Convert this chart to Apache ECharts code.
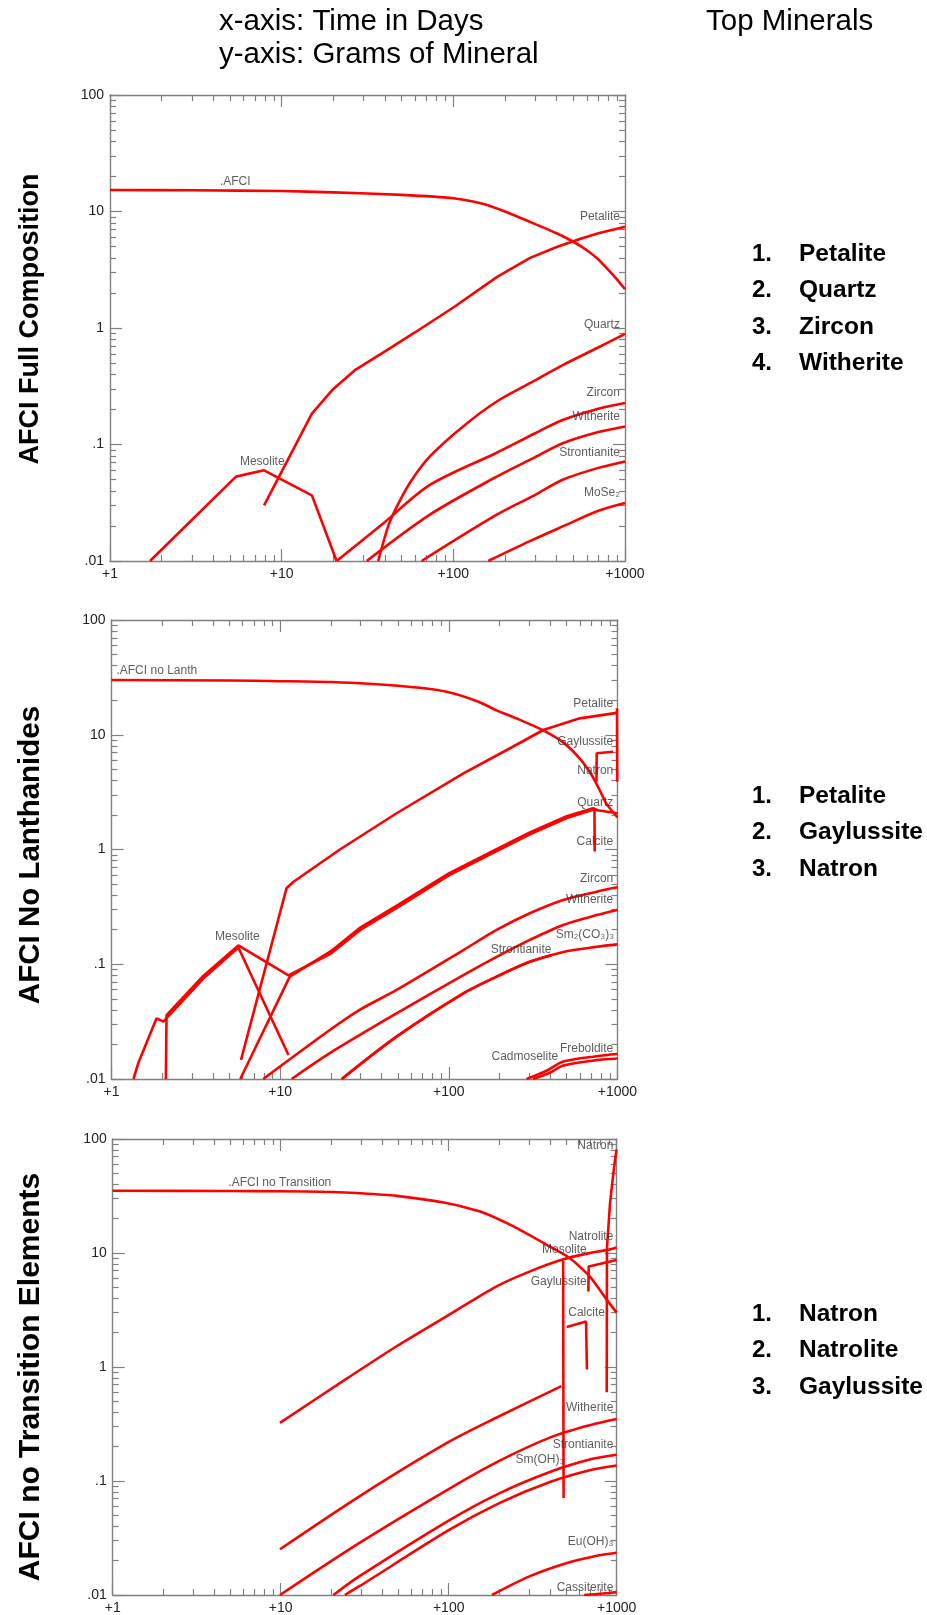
<!DOCTYPE html>
<html>
<head>
<meta charset="utf-8">
<script src="https://cdn.jsdelivr.net/npm/echarts@6/dist/echarts.min.js"></script>
<style>
  html, body { margin: 0; padding: 0; background: #ffffff; }
  #chart { width: 927px; height: 1615px; }
</style>
</head>
<body>
<div id="chart"></div>
<script>
// ---------- Data: [days, grams] pairs, one array per mineral ----------

// Panel 1 - AFCI full composition
const p1Afci = [[1,15.3],[3,15.2],[10,15.0],[20,14.6],[50,13.9],[100,13.0],[150,11.6],[200,10.0],[300,7.8],[400,6.5],[500,5.5],[600,4.65],[700,3.87],[800,3.15],[900,2.6],[1000,2.15]];
const p1Petalite = [[7.9,0.030],[15,0.184],[20,0.30],[27,0.44],[40,0.63],[60,0.92],[100,1.5],[180,2.75],[280,4.0],[400,4.95],[545,5.8],[700,6.5],[1000,7.4]];
const p1Quartz = [[36.5,0.01],[41.8,0.020],[46.7,0.029],[55.9,0.047],[73,0.079],[114,0.143],[179,0.234],[279,0.336],[437,0.483],[683,0.67],[1000,0.89]];
const p1Zircon = [[20.9,0.01],[39,0.021],[73,0.045],[179,0.085],[300,0.125],[437,0.163],[700,0.203],[1000,0.227]];
const p1Witherite = [[31.3,0.01],[73,0.025],[179,0.053],[300,0.078],[437,0.103],[700,0.128],[1000,0.143]];
const p1Strontianite = [[65.3,0.01],[179,0.025],[300,0.037],[437,0.05],[700,0.063],[1000,0.0716]];
const p1MoSe2 = [[159.7,0.01],[279,0.0148],[437,0.0199],[700,0.027],[1000,0.0315]];
const p1Mesolite = [[1.71,0.01],[5.42,0.053],[7.9,0.060],[15,0.0366],[20.9,0.01]];

// Panel 2 - AFCI without lanthanides
const p2Afci = [[1,30],[5,29.7],[10,29.3],[20,28.8],[50,26.7],[97,23.7],[150,19.4],[192,16.3],[260,13.6],[363,10.9],[480,8.5],[598,6.2],[700,4.5],[780,3.35],[861,2.5],[1000,1.9]];
const p2Petalite = [[5.86,0.0147],[10.9,0.459],[12,0.524],[22.6,1.0],[49,2.07],[122,4.6],[241,7.9],[363,11],[598,13.9],[990,15.5]];
const p2Natron = [[993,17],[996,3.9]];
const p2Gaylussite = [[750,3.9],[753,6.9],[944,7.1]];
const p2Quartz = [[5.8,0.01],[11.4,0.078],[20,0.13],[30,0.21],[50,0.33],[100,0.62],[183,0.97],[300,1.4],[500,1.95],[718,2.29],[760,2.2],[1000,2.07]];
const p2Calcite = [[2.1,0.01],[2.12,0.036],[3.5,0.079],[5.65,0.146],[11.2,0.08],[20,0.124],[30,0.2],[50,0.315],[100,0.595],[183,0.935],[300,1.35],[500,1.88],[730,2.24],[733,0.96]];
const p2Mesolite = [[1.35,0.01],[1.44,0.0137],[1.85,0.0338],[2.03,0.0316],[3.5,0.075],[5.65,0.14],[11.2,0.0162]];
const p2Zircon = [[7.94,0.01],[19.7,0.0267],[29.6,0.04],[49,0.0597],[122,0.133],[192,0.199],[302,0.278],[477,0.363],[752,0.429],[1000,0.468]];
const p2Witherite = [[11.7,0.01],[19.7,0.0168],[49,0.0373],[122,0.0805],[192,0.116],[302,0.163],[477,0.22],[752,0.268],[1000,0.297]];
const p2Sm2CO33 = [[23.2,0.01],[49,0.0234],[122,0.0558],[192,0.078],[302,0.105],[477,0.128],[752,0.142],[1000,0.149]];
const p2Strontianite = [[23.2,0.01],[49,0.0234],[122,0.0558],[192,0.078],[302,0.105],[406,0.119]];
const p2Freboldite = [[289,0.01],[380,0.0118],[477,0.0142],[752,0.0158],[1000,0.0165]];
const p2Cadmoselite = [[316,0.01],[400,0.0114],[477,0.0131],[752,0.0146],[1000,0.0151]];

// Panel 3 - AFCI without transition elements
const p3Afci = [[1,35.2],[5,35.0],[10,34.8],[20,34.3],[30,33.4],[49,31.7],[97,27.4],[154,23.1],[243,17.1],[383,11.8],[527,9.0],[693,6.2],[872,3.9],[1000,3.0]];
const p3Natrolite = [[9.9,0.324],[24.7,0.79],[49,1.52],[97,2.78],[193,5.1],[305,6.9],[481,8.8],[693,10],[872,10.6],[1000,11.2]];
const p3Mesolite = [[480,8.6],[483,0.071]];
const p3Gaylussite = [[678,4.6],[681,7.6],[1000,8.7]];
const p3Calcite = [[504,2.24],[657,2.51],[665,0.95]];
const p3Natron = [[872,0.6],[875,11],[912,27],[946,44],[982,70],[1000,81]];
const p3EarlyPhase = [[9.9,0.0252],[29.6,0.0738],[100,0.22],[200,0.37],[469,0.68]];
const p3Witherite = [[9.9,0.01],[29.6,0.0288],[100,0.085],[200,0.15],[400,0.24],[700,0.31],[1000,0.35]];
const p3Strontianite = [[20.6,0.01],[29.6,0.0147],[100,0.045],[200,0.078],[400,0.12],[700,0.155],[1000,0.17]];
const p3SmOH3 = [[24.1,0.01],[29.6,0.012],[100,0.037],[200,0.064],[400,0.098],[700,0.125],[1000,0.137]];
const p3EuOH3 = [[181,0.01],[300,0.0145],[500,0.019],[750,0.022],[1000,0.0235]];
const p3Cassiterite = [[640,0.01],[820,0.0103],[1000,0.0106]];

// Curve labels: [days, grams, text, alignment of the text against that point]
const p1Labels = [
  [4.37, 17.9, '.AFCI', 'left'],
  [934, 9.04, 'Petalite', 'right'],
  [934, 1.06, 'Quartz', 'right'],
  [934, 0.278, 'Zircon', 'right'],
  [934, 0.174, 'Witherite', 'right'],
  [934, 0.0855, 'Strontianite', 'right'],
  [934, 0.0386, 'MoSe₂', 'right'],
  [5.71, 0.0716, 'Mesolite', 'left']
];
const p2Labels = [
  [1.07, 36.1, '.AFCI no Lanth', 'left'],
  [944, 18.5, 'Petalite', 'right'],
  [944, 8.7, 'Gaylussite', 'right'],
  [944, 4.87, 'Natron', 'right'],
  [944, 2.56, 'Quartz', 'right'],
  [944, 1.17, 'Calcite', 'right'],
  [944, 0.561, 'Zircon', 'right'],
  [944, 0.363, 'Witherite', 'right'],
  [955, 0.18, 'Sm₂(CO₃)₃', 'right'],
  [406, 0.133, 'Strontianite', 'right'],
  [944, 0.0182, 'Freboldite', 'right'],
  [445, 0.0155, 'Cadmoselite', 'right'],
  [4.11, 0.174, 'Mesolite', 'left']
];
const p3Labels = [
  [4.88, 41.4, '.AFCI no Transition', 'left'],
  [955, 86.9, 'Natron', 'right'],
  [955, 13.9, 'Natrolite', 'right'],
  [663, 10.7, 'Mesolite', 'right'],
  [663, 5.56, 'Gaylussite', 'right'],
  [851, 3.01, 'Calcite', 'right'],
  [955, 0.44, 'Witherite', 'right'],
  [955, 0.209, 'Strontianite', 'right'],
  [488, 0.153, 'Sm(OH)₃', 'right'],
  [955, 0.0296, 'Eu(OH)₃', 'right'],
  [955, 0.0117, 'Cassiterite', 'right']
];

// Side texts
const panelTitles = ['AFCI Full Composition', 'AFCI No Lanthanides', 'AFCI no Transition Elements'];
const topMinerals = [
  ['Petalite', 'Quartz', 'Zircon', 'Witherite'],
  ['Petalite', 'Gaylussite', 'Natron'],
  ['Natron', 'Natrolite', 'Gaylussite']
];

// Axis ranges
const X_MIN = 1, X_MAX = 1000;
const Y_MIN = 0.01, Y_MAX = 100;

// ---------- Layout ----------
const GRIDS = [
  { left: 110, top: 95, width: 515, height: 466 },
  { left: 111.5, top: 620, width: 506, height: 459 },
  { left: 112.7, top: 1139, width: 504, height: 457 }
];
const TITLE_Y = [319, 855, 1377];
const TITLE_SIZE = [27, 29.5, 30];
const LIST_Y = [254, 796, 1314];
const LIST_STEP = 36.5;

const RED = '#ff0000';
const GRAY = '#808080';
const FONT = 'Liberation Sans, Arial, sans-serif';

const fmtX = v => '+' + Math.round(v);
const fmtY = v => {
  const e = Math.round(Math.log10(v));
  return e >= 0 ? String(Math.pow(10, e)) : '.' + '0'.repeat(-e - 1) + '1';
};

// minor ticks at 2..9 within each decade, expressed as exponents
function minorLogTicks(lo, hi) {
  const out = [];
  for (let e = lo; e < hi; e++) {
    for (let m = 2; m <= 9; m++) out.push(e + Math.log10(m));
  }
  return out;
}
const minorX = minorLogTicks(0, 3);
const minorY = minorLogTicks(-2, 2);

const tickLine = { color: GRAY, width: 1.2 };
const frameLine = { show: true, onZero: false, lineStyle: { color: GRAY, width: 1.4 } };
const xAxes = [], yAxes = [];
GRIDS.forEach((g, i) => {
  // main bottom axis (series bound here)
  xAxes.push({
    type: 'log', logBase: 10, gridIndex: i, min: X_MIN, max: X_MAX, position: 'bottom',
    axisLine: frameLine,
    axisTick: { show: true, inside: true, length: 12, lineStyle: tickLine },
    axisLabel: { show: true, formatter: fmtX, color: '#222', fontSize: 14, fontFamily: FONT, margin: 6 },
    splitLine: { show: false }
  });
  // top frame
  xAxes.push({
    type: 'log', logBase: 10, gridIndex: i, min: X_MIN, max: X_MAX, position: 'top',
    axisLine: frameLine,
    axisTick: { show: true, inside: true, length: 12, lineStyle: tickLine },
    axisLabel: { show: false }, splitLine: { show: false }
  });
  // minor ticks bottom / top
  ['bottom', 'top'].forEach(pos => xAxes.push({
    type: 'value', gridIndex: i, min: 0, max: 3, position: pos,
    axisLine: { show: false, onZero: false },
    axisTick: { show: true, inside: true, length: 6, customValues: minorX, lineStyle: tickLine },
    axisLabel: { show: false }, splitLine: { show: false }
  }));

  yAxes.push({
    type: 'log', logBase: 10, gridIndex: i, min: Y_MIN, max: Y_MAX, position: 'left',
    axisLine: frameLine,
    axisTick: { show: true, inside: true, length: 12, lineStyle: tickLine },
    axisLabel: { show: true, formatter: fmtY, color: '#222', fontSize: 14, fontFamily: FONT, margin: 6 },
    splitLine: { show: false }
  });
  yAxes.push({
    type: 'log', logBase: 10, gridIndex: i, min: Y_MIN, max: Y_MAX, position: 'right',
    axisLine: frameLine,
    axisTick: { show: true, inside: true, length: 12, lineStyle: tickLine },
    axisLabel: { show: false }, splitLine: { show: false }
  });
  ['left', 'right'].forEach(pos => yAxes.push({
    type: 'value', gridIndex: i, min: -2, max: 2, position: pos,
    axisLine: { show: false, onZero: false },
    axisTick: { show: true, inside: true, length: 6, customValues: minorY, lineStyle: tickLine },
    axisLabel: { show: false }, splitLine: { show: false }
  }));
});

// ---------- Series ----------
// [panel, name, data, smoothing]
const curves = [
  [0, 'AFCI', p1Afci, 0.2],
  [0, 'Petalite', p1Petalite, 0],
  [0, 'Quartz', p1Quartz, 0.3],
  [0, 'Zircon', p1Zircon, 0.3],
  [0, 'Witherite', p1Witherite, 0.3],
  [0, 'Strontianite', p1Strontianite, 0.3],
  [0, 'MoSe2', p1MoSe2, 0.3],
  [0, 'Mesolite', p1Mesolite, 0],

  [1, 'AFCI no Lanth', p2Afci, 0.2],
  [1, 'Petalite', p2Petalite, 0],
  [1, 'Natron', p2Natron, 0],
  [1, 'Gaylussite', p2Gaylussite, 0],
  [1, 'Quartz', p2Quartz, 0],
  [1, 'Calcite', p2Calcite, 0],
  [1, 'Mesolite', p2Mesolite, 0],
  [1, 'Zircon', p2Zircon, 0.3],
  [1, 'Witherite', p2Witherite, 0.3],
  [1, 'Sm2(CO3)3', p2Sm2CO33, 0.3],
  [1, 'Strontianite', p2Strontianite, 0.3],
  [1, 'Freboldite', p2Freboldite, 0.3],
  [1, 'Cadmoselite', p2Cadmoselite, 0.3],

  [2, 'AFCI no Transition', p3Afci, 0.2],
  [2, 'Natrolite', p3Natrolite, 0.3],
  [2, 'Mesolite', p3Mesolite, 0],
  [2, 'Gaylussite', p3Gaylussite, 0],
  [2, 'Calcite', p3Calcite, 0],
  [2, 'Natron', p3Natron, 0],
  [2, 'early phase', p3EarlyPhase, 0.3],
  [2, 'Witherite', p3Witherite, 0.3],
  [2, 'Strontianite', p3Strontianite, 0.3],
  [2, 'Sm(OH)3', p3SmOH3, 0.3],
  [2, 'Eu(OH)3', p3EuOH3, 0.3],
  [2, 'Cassiterite', p3Cassiterite, 0.3]
];

const series = curves.map(([p, name, data, smooth]) => ({
  type: 'line', name, data,
  xAxisIndex: p * 4, yAxisIndex: p * 4,
  symbol: 'none', showSymbol: false,
  smooth: smooth > 0 ? smooth : false,
  lineStyle: { color: RED, width: 2.6 },
  silent: true, animation: false
}));

[p1Labels, p2Labels, p3Labels].forEach((labels, p) => {
  series.push({
    type: 'scatter', xAxisIndex: p * 4, yAxisIndex: p * 4,
    symbol: 'circle', symbolSize: 1,
    itemStyle: { color: 'rgba(0,0,0,0)' },
    silent: true, animation: false, z: 5,
    label: {
      show: true, position: 'inside', formatter: '{b}',
      color: '#333', fontSize: 12, fontFamily: FONT, verticalAlign: 'middle'
    },
    data: labels.map(([t, g, text, align]) => ({ value: [t, g], name: text, label: { align } }))
  });
});

// ---------- Static texts ----------
const headStyle = { fontSize: 29.5, fontFamily: FONT, fill: '#000', align: 'left', verticalAlign: 'middle' };
const graphics = [
  { type: 'text', x: 219, y: 22, style: Object.assign({ text: 'x-axis: Time in Days' }, headStyle) },
  { type: 'text', x: 219, y: 55, style: Object.assign({ text: 'y-axis: Grams of Mineral' }, headStyle) },
  { type: 'text', x: 706, y: 22, style: Object.assign({ text: 'Top Minerals' }, headStyle) }
];
panelTitles.forEach((t, i) => graphics.push({
  type: 'text', x: 31, y: TITLE_Y[i], rotation: Math.PI / 2,
  style: { text: t, fontSize: TITLE_SIZE[i], fontWeight: 'bold', fontFamily: FONT, fill: '#000', align: 'center', verticalAlign: 'middle' }
}));
topMinerals.forEach((list, i) => list.forEach((m, k) => {
  const y = LIST_Y[i] + k * LIST_STEP;
  graphics.push({ type: 'text', x: 752, y, style: { text: (k + 1) + '.', fontSize: 24, fontWeight: 'bold', fontFamily: FONT, fill: '#000', align: 'left', verticalAlign: 'middle' } });
  graphics.push({ type: 'text', x: 799, y, style: { text: m, fontSize: 24.5, fontWeight: 'bold', fontFamily: FONT, fill: '#000', align: 'left', verticalAlign: 'middle' } });
}));

const chart = echarts.init(document.getElementById('chart'), null, { renderer: 'canvas', width: 927, height: 1615 });
chart.setOption({
  backgroundColor: '#ffffff',
  animation: false,
  grid: GRIDS.map(g => Object.assign({ containLabel: false }, g)),
  xAxis: xAxes,
  yAxis: yAxes,
  series,
  graphic: graphics
});
</script>
</body>
</html>
